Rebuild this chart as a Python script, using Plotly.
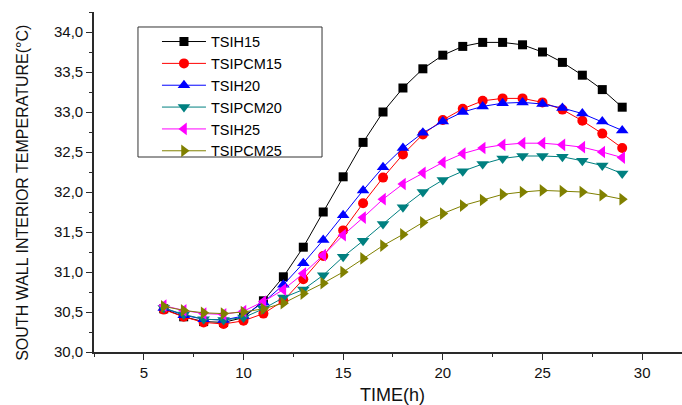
import plotly.graph_objects as go

# Hours of the day
time_h = list(range(6, 30))

# South wall interior temperatures (°C)
tsih15 = [30.54, 30.44, 30.38, 30.37, 30.43, 30.64, 30.94, 31.31, 31.75, 32.19, 32.62, 33.00,
          33.30, 33.54, 33.71, 33.82, 33.87, 33.87, 33.84, 33.75, 33.62, 33.46, 33.28, 33.06]
tsipcm15 = [30.53, 30.44, 30.37, 30.35, 30.39, 30.48, 30.64, 30.91, 31.20, 31.52, 31.86, 32.18,
            32.47, 32.72, 32.90, 33.04, 33.14, 33.17, 33.17, 33.12, 33.03, 32.89, 32.73, 32.55]
tsih20 = [30.55, 30.46, 30.41, 30.40, 30.45, 30.62, 30.84, 31.11, 31.40, 31.71, 32.02, 32.31,
          32.55, 32.74, 32.88, 33.00, 33.07, 33.11, 33.12, 33.10, 33.05, 32.98, 32.88, 32.77]
tsipcm20 = [30.55, 30.47, 30.41, 30.40, 30.43, 30.54, 30.68, 30.78, 30.96, 31.19, 31.39, 31.60,
            31.81, 32.00, 32.15, 32.26, 32.35, 32.42, 32.45, 32.45, 32.44, 32.39, 32.33, 32.23]
tsih25 = [30.58, 30.52, 30.48, 30.47, 30.51, 30.63, 30.78, 30.98, 31.21, 31.46, 31.68, 31.91,
          32.10, 32.24, 32.37, 32.48, 32.55, 32.59, 32.61, 32.61, 32.59, 32.56, 32.50, 32.43]
tsipcm25 = [30.57, 30.52, 30.49, 30.48, 30.50, 30.54, 30.61, 30.73, 30.86, 31.00, 31.17, 31.33,
            31.47, 31.62, 31.73, 31.83, 31.90, 31.97, 32.00, 32.02, 32.01, 32.00, 31.96, 31.91]

series_names = ["TSIH15", "TSIPCM15", "TSIH20", "TSIPCM20", "TSIH25", "TSIPCM25"]
series_values = [tsih15, tsipcm15, tsih20, tsipcm20, tsih25, tsipcm25]
colors = ["#000000", "#FF0000", "#0000FF", "#008080", "#FF00FF", "#808000"]
symbols = ["square", "circle", "triangle-up", "triangle-down", "triangle-left", "triangle-right"]
sizes = [9, 10, 11, 11, 11, 11]

FONT = "Liberation Sans, Arial, sans-serif"

fig = go.Figure()
for name, vals, col, sym, sz in zip(series_names, series_values, colors, symbols, sizes):
    fig.add_trace(go.Scatter(
        x=time_h, y=vals, name=name, mode="lines+markers",
        line=dict(color=col, width=1),
        marker=dict(symbol=sym, size=sz, color=col, line=dict(width=0)),
    ))

axis_common = dict(
    showline=True, linecolor="#2a2a2a", linewidth=1.6,
    ticks="outside", ticklen=6, tickwidth=1.3, tickcolor="#2a2a2a",
    showgrid=False, zeroline=False, mirror=False,
    tickfont=dict(family=FONT, size=15, color="#111111"),
)

fig.update_layout(
    width=682, height=405,
    margin=dict(l=94, r=0, t=12, b=53),
    paper_bgcolor="white", plot_bgcolor="white",
    separators=",.",
    showlegend=True,
    legend=dict(
        x=0.1071, y=0.96, xanchor="left", yanchor="top",
        bgcolor="rgba(0,0,0,0)", borderwidth=0,
        font=dict(family=FONT, size=14.5, color="#000000"),
        itemwidth=44, tracegroupgap=0,
    ),
    # frame around the legend
    shapes=[
        dict(type="rect", xref="paper", yref="paper",
             x0=0.0748, x1=0.3878, y0=0.5735, y1=0.9559,
             line=dict(color="#333333", width=1), fillcolor="rgba(0,0,0,0)", layer="above"),
    ],
    xaxis=dict(
        range=[2.5, 32], tickvals=[5, 10, 15, 20, 25, 30],
        minor=dict(dtick=2.5, tick0=0, ticks="outside", ticklen=3, tickwidth=1.3, tickcolor="#2a2a2a"),
        **axis_common,
    ),
    yaxis=dict(
        range=[30, 34.25], dtick=0.5, tick0=30, tickformat=".1f",
        minor=dict(dtick=0.25, tick0=30, ticks="outside", ticklen=3, tickwidth=1.3, tickcolor="#2a2a2a"),
        **axis_common,
    ),
    annotations=[
        dict(text="SOUTH WALL INTERIOR TEMPERATURE(°C)", textangle=-90,
             xref="paper", yref="paper", x=-0.122, y=0.469,
             xanchor="center", yanchor="middle", showarrow=False,
             font=dict(family=FONT, size=16, color="#111111")),
        dict(text="TIME(h)", xref="paper", yref="paper", x=0.5085, y=-0.126,
             xanchor="center", yanchor="middle", showarrow=False,
             font=dict(family=FONT, size=18, color="#111111")),
    ],
)

fig.write_html("out.html")
